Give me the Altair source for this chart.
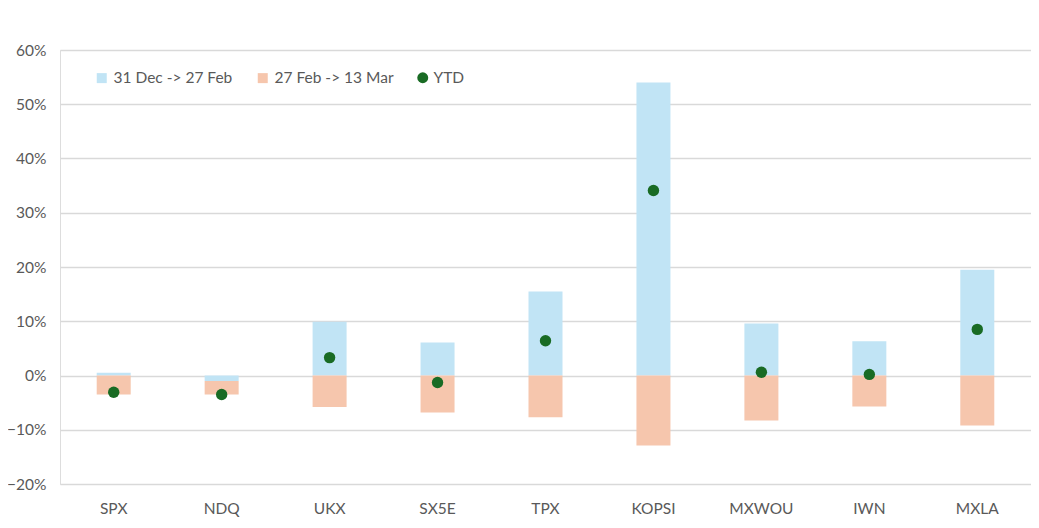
import altair as alt
import pandas as pd

categories = ["SPX", "NDQ", "UKX", "SX5E", "TPX", "KOPSI", "MXWOU", "IWN", "MXLA"]
dec_feb = [0.5, -1.0, 9.9, 6.1, 15.5, 54.0, 9.6, 6.3, 19.5]
feb_mar = [-3.5, -2.5, -5.8, -6.8, -7.7, -12.9, -8.3, -5.7, -9.2]
ytd = [-3.1, -3.5, 3.3, -1.3, 6.4, 34.1, 0.6, 0.2, 8.5]
series_names = ["31 Dec -> 27 Feb", "27 Feb -> 13 Mar"]
ytd_name = "YTD"
y_ticks = [-0.2, -0.1, 0.0, 0.1, 0.2, 0.3, 0.4, 0.5, 0.6]

rows = []
for i, c in enumerate(categories):
    rows.append({"cat": c, "series": series_names[0], "order": 0, "value": dec_feb[i] / 100})
    rows.append({"cat": c, "series": series_names[1], "order": 1, "value": feb_mar[i] / 100})
bars_df = pd.DataFrame(rows)
pts_df = pd.DataFrame({"cat": categories, "series": [ytd_name] * len(categories),
                       "value": [v / 100 for v in ytd]})

FONT = "Lato"
GREY = "#595959"

xenc = alt.X("cat:N", sort=categories, title=None,
             scale=alt.Scale(paddingInner=0.685, paddingOuter=0.34),
             axis=alt.Axis(labelAngle=0, domain=False, ticks=False, grid=False,
                           labelPadding=17, labelFontSize=15.5, labelColor=GREY, labelFont=FONT))
yscale = alt.Scale(domain=[-0.2, 0.6], nice=False, zero=False)

bars = alt.Chart(bars_df).mark_bar(size=34).encode(
    x=xenc,
    y=alt.Y("value:Q", stack="zero", scale=yscale, title=None,
            axis=alt.Axis(values=y_ticks, format=".0%", domain=False, ticks=False,
                          labelPadding=14, labelFontSize=15.5, labelColor=GREY, labelFont=FONT,
                          gridColor="#D9D9D9", gridWidth=1.5)),
    color=alt.Color("series:N", title=None,
                    scale=alt.Scale(domain=series_names, range=["#C1E4F5", "#F6C6AD"]),
                    legend=alt.Legend(orient="none", legendX=34, legendY=20, direction="horizontal",
                                      symbolType="square", symbolSize=100, symbolStrokeWidth=0,
                                      labelFontSize=15.5, labelColor=GREY, labelFont=FONT,
                                      labelOffset=4, columnPadding=22, padding=0)),
    order=alt.Order("order:Q"),
)

points = alt.Chart(pts_df).mark_point(filled=True, size=130, opacity=1).encode(
    x=alt.X("cat:N", sort=categories),
    y=alt.Y("value:Q", scale=yscale),
    fill=alt.Fill("series:N", title=None,
                  scale=alt.Scale(domain=[ytd_name], range=["#196B24"]),
                  legend=alt.Legend(orient="none", legendX=355, legendY=20,
                                    symbolType="circle", symbolSize=120, symbolStrokeWidth=0,
                                    labelFontSize=15.5, labelColor=GREY, labelFont=FONT,
                                    labelOffset=3, padding=0)),
)

chart = alt.layer(bars, points).properties(
    width=971, height=434,
    autosize=alt.AutoSizeParams(type="none"),
    padding={"left": 52, "top": 42, "right": 0, "bottom": 34},
).configure_view(stroke=None).configure(background="white")

chart.save("out.html", embed_options={"renderer": "svg", "actions": False})
